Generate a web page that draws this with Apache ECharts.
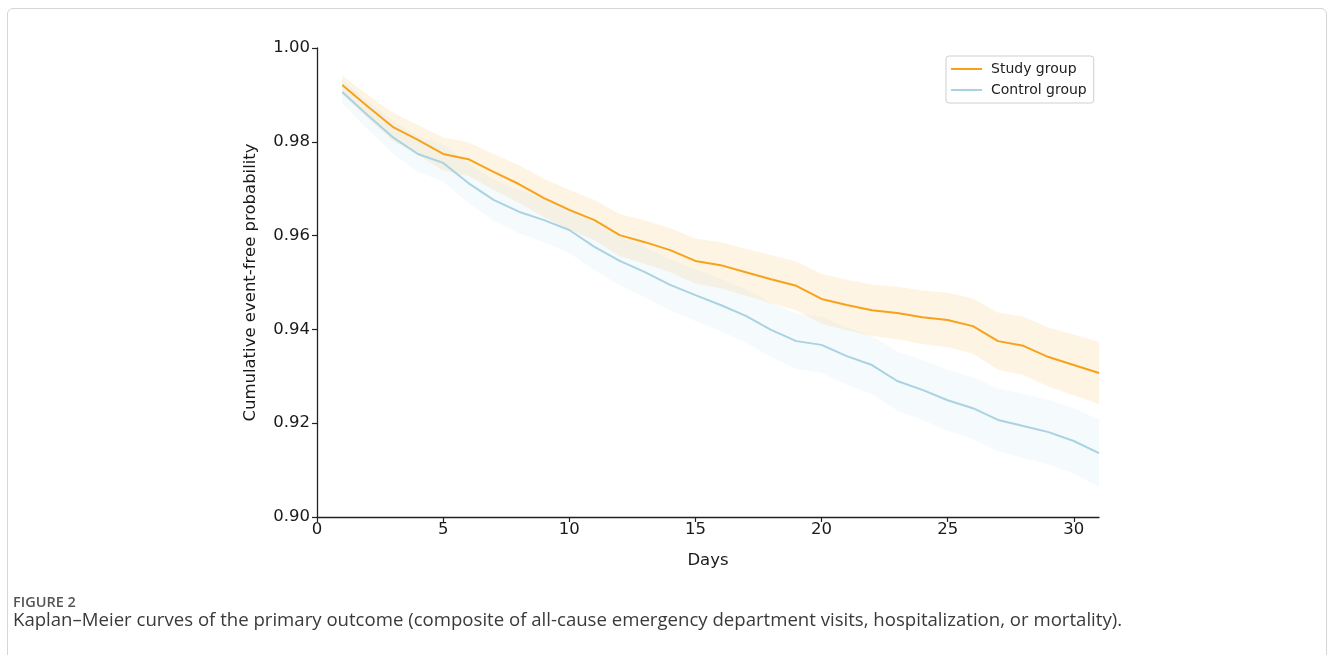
<!DOCTYPE html>
<html>
<head>
<meta charset="utf-8">
<script src="https://cdn.jsdelivr.net/npm/echarts@6/dist/echarts.min.js"></script>
<style>
  html, body { margin: 0; padding: 0; background: #fff; }
  #frame { position: absolute; left: 7px; top: 8px; width: 1320px; height: 680px; border: 1px solid #d6d6d6; border-radius: 6px; box-sizing: border-box; }
  #chart { position: absolute; left: 0; top: 0; width: 1335px; height: 655px; }
</style>
</head>
<body>
<div id="frame"></div>
<div id="chart"></div>
<script>
const days = [1,2,3,4,5,6,7,8,9,10,11,12,13,14,15,16,17,18,19,20,21,22,23,24,25,26,27,28,29,30,31];

const studyMean = [0.9921,0.9876,0.9832,0.9804,0.9774,0.9763,0.9736,0.9710,0.9680,0.9655,0.9633,0.9601,0.9586,0.9569,0.9546,0.9537,0.9522,0.9507,0.9493,0.9465,0.9452,0.9441,0.9435,0.9426,0.9420,0.9407,0.9375,0.9365,0.9341,0.9324,0.9307];
const studyUpper = [0.9941,0.9901,0.9862,0.9836,0.9809,0.9799,0.9774,0.9750,0.9721,0.9697,0.9676,0.9646,0.9632,0.9616,0.9594,0.9586,0.9572,0.9558,0.9545,0.9518,0.9506,0.9496,0.9491,0.9483,0.9478,0.9466,0.9436,0.9427,0.9404,0.9389,0.9373];
const studyLower = [0.9901,0.9851,0.9802,0.9772,0.9739,0.9727,0.9698,0.9670,0.9639,0.9613,0.9590,0.9556,0.9540,0.9522,0.9498,0.9488,0.9472,0.9456,0.9441,0.9412,0.9398,0.9386,0.9379,0.9369,0.9362,0.9348,0.9314,0.9303,0.9278,0.9259,0.9241];

const controlMean = [0.9906,0.9857,0.9810,0.9774,0.9755,0.9712,0.9676,0.9651,0.9633,0.9612,0.9576,0.9546,0.9522,0.9495,0.9473,0.9452,0.9429,0.9399,0.9375,0.9367,0.9343,0.9324,0.9290,0.9271,0.9249,0.9232,0.9207,0.9194,0.9181,0.9162,0.9136];
const controlUpper = [0.9931,0.9887,0.9845,0.9812,0.9795,0.9754,0.9720,0.9697,0.9680,0.9661,0.9626,0.9598,0.9575,0.9549,0.9528,0.9508,0.9486,0.9457,0.9434,0.9427,0.9404,0.9386,0.9353,0.9335,0.9314,0.9298,0.9274,0.9262,0.9250,0.9232,0.9208];
const controlLower = [0.9881,0.9827,0.9775,0.9736,0.9715,0.9670,0.9632,0.9605,0.9586,0.9563,0.9526,0.9494,0.9469,0.9441,0.9418,0.9396,0.9372,0.9341,0.9316,0.9307,0.9282,0.9262,0.9227,0.9207,0.9184,0.9166,0.9140,0.9126,0.9112,0.9092,0.9064];

const seriesNames = ['Study group', 'Control group'];
const xTicks = [0, 5, 10, 15, 20, 25, 30];

const STUDY_COLOR = '#F7A21B';
const CONTROL_COLOR = '#A9D3E3';

const pairs = (xs, ys) => xs.map((x, i) => [x, ys[i]]);

function bandSeries(name, lower, upper, color, opacity) {
  return {
    type: 'custom', name: name, silent: true, z: 1,
    data: days.map((d, i) => [d, lower[i], upper[i]]),
    encode: { x: 0, y: [1, 2] },
    renderItem: function (params, api) {
      if (params.dataIndex !== 0) return null;
      const pts = [];
      for (let i = 0; i < days.length; i++) pts.push(api.coord([days[i], upper[i]]));
      for (let i = days.length - 1; i >= 0; i--) pts.push(api.coord([days[i], lower[i]]));
      return { type: 'polygon', shape: { points: pts }, style: { fill: color, opacity: opacity, stroke: null } };
    }
  };
}

const chart = echarts.init(document.getElementById('chart'), null, { renderer: 'canvas' });

const tickFont = { fontFamily: 'DejaVu Sans', fontSize: 16.5, color: '#1a1a1a' };

chart.setOption({
  animation: false,
  backgroundColor: 'transparent',
  grid: { left: 317, top: 48, width: 782, height: 469, containLabel: false },
  xAxis: {
    type: 'value', min: 0, max: 31, interval: 5,
    name: 'Days', nameLocation: 'middle', nameGap: 35,
    nameTextStyle: { fontFamily: 'DejaVu Sans', fontSize: 16.5, color: '#1a1a1a' },
    axisLine: { show: true, lineStyle: { color: '#222', width: 1.3 } },
    axisTick: { show: true, inside: false, length: 5, lineStyle: { color: '#222', width: 1.2 }, customValues: xTicks },
    axisLabel: Object.assign({ margin: 4, customValues: xTicks }, tickFont),
    splitLine: { show: false }
  },
  yAxis: {
    type: 'value', min: 0.9, max: 1.0, interval: 0.02,
    name: 'Cumulative event-free probability', nameLocation: 'middle', nameGap: 58,
    nameTextStyle: { fontFamily: 'DejaVu Sans', fontSize: 16.5, color: '#1a1a1a' },
    axisLine: { show: true, lineStyle: { color: '#222', width: 1.3 } },
    axisTick: { show: true, inside: false, length: 5, lineStyle: { color: '#222', width: 1.2 } },
    axisLabel: Object.assign({ margin: 7, formatter: v => v.toFixed(2) }, tickFont),
    splitLine: { show: false }
  },
  legend: {
    data: seriesNames,
    left: 946, top: 56,
    orient: 'vertical',
    itemWidth: 31, itemHeight: 2, itemGap: 7,
    icon: 'rect',
    padding: [6, 7, 6, 5],
    borderColor: '#cfcfcf', borderWidth: 1, borderRadius: 3,
    backgroundColor: '#fff',
    textStyle: { fontFamily: 'DejaVu Sans', fontSize: 14, color: '#222', padding: [0, 0, 0, 4] },
    itemStyle: { borderWidth: 0 }
  },
  series: [
    bandSeries('studyBand', studyLower, studyUpper, STUDY_COLOR, 0.12),
    bandSeries('controlBand', controlLower, controlUpper, CONTROL_COLOR, 0.12),
    { name: seriesNames[0], type: 'line', data: pairs(days, studyMean), symbol: 'none', color: STUDY_COLOR, lineStyle: { color: STUDY_COLOR, width: 2 }, z: 3 },
    { name: seriesNames[1], type: 'line', data: pairs(days, controlMean), symbol: 'none', color: CONTROL_COLOR, lineStyle: { color: CONTROL_COLOR, width: 2 }, z: 3 }
  ],
  graphic: [
    { type: 'text', left: 13, top: 595, style: { text: 'FIGURE 2', fontFamily: 'Open Sans', fontSize: 14.5, fontWeight: 600, fill: '#555' } },
    { type: 'text', left: 13, top: 611, style: { text: 'Kaplan–Meier curves of the primary outcome (composite of all-cause emergency department visits, hospitalization, or mortality).', fontFamily: 'Open Sans', fontSize: 18.6, fill: '#3a3a3a' } }
  ]
});
</script>
</body>
</html>
